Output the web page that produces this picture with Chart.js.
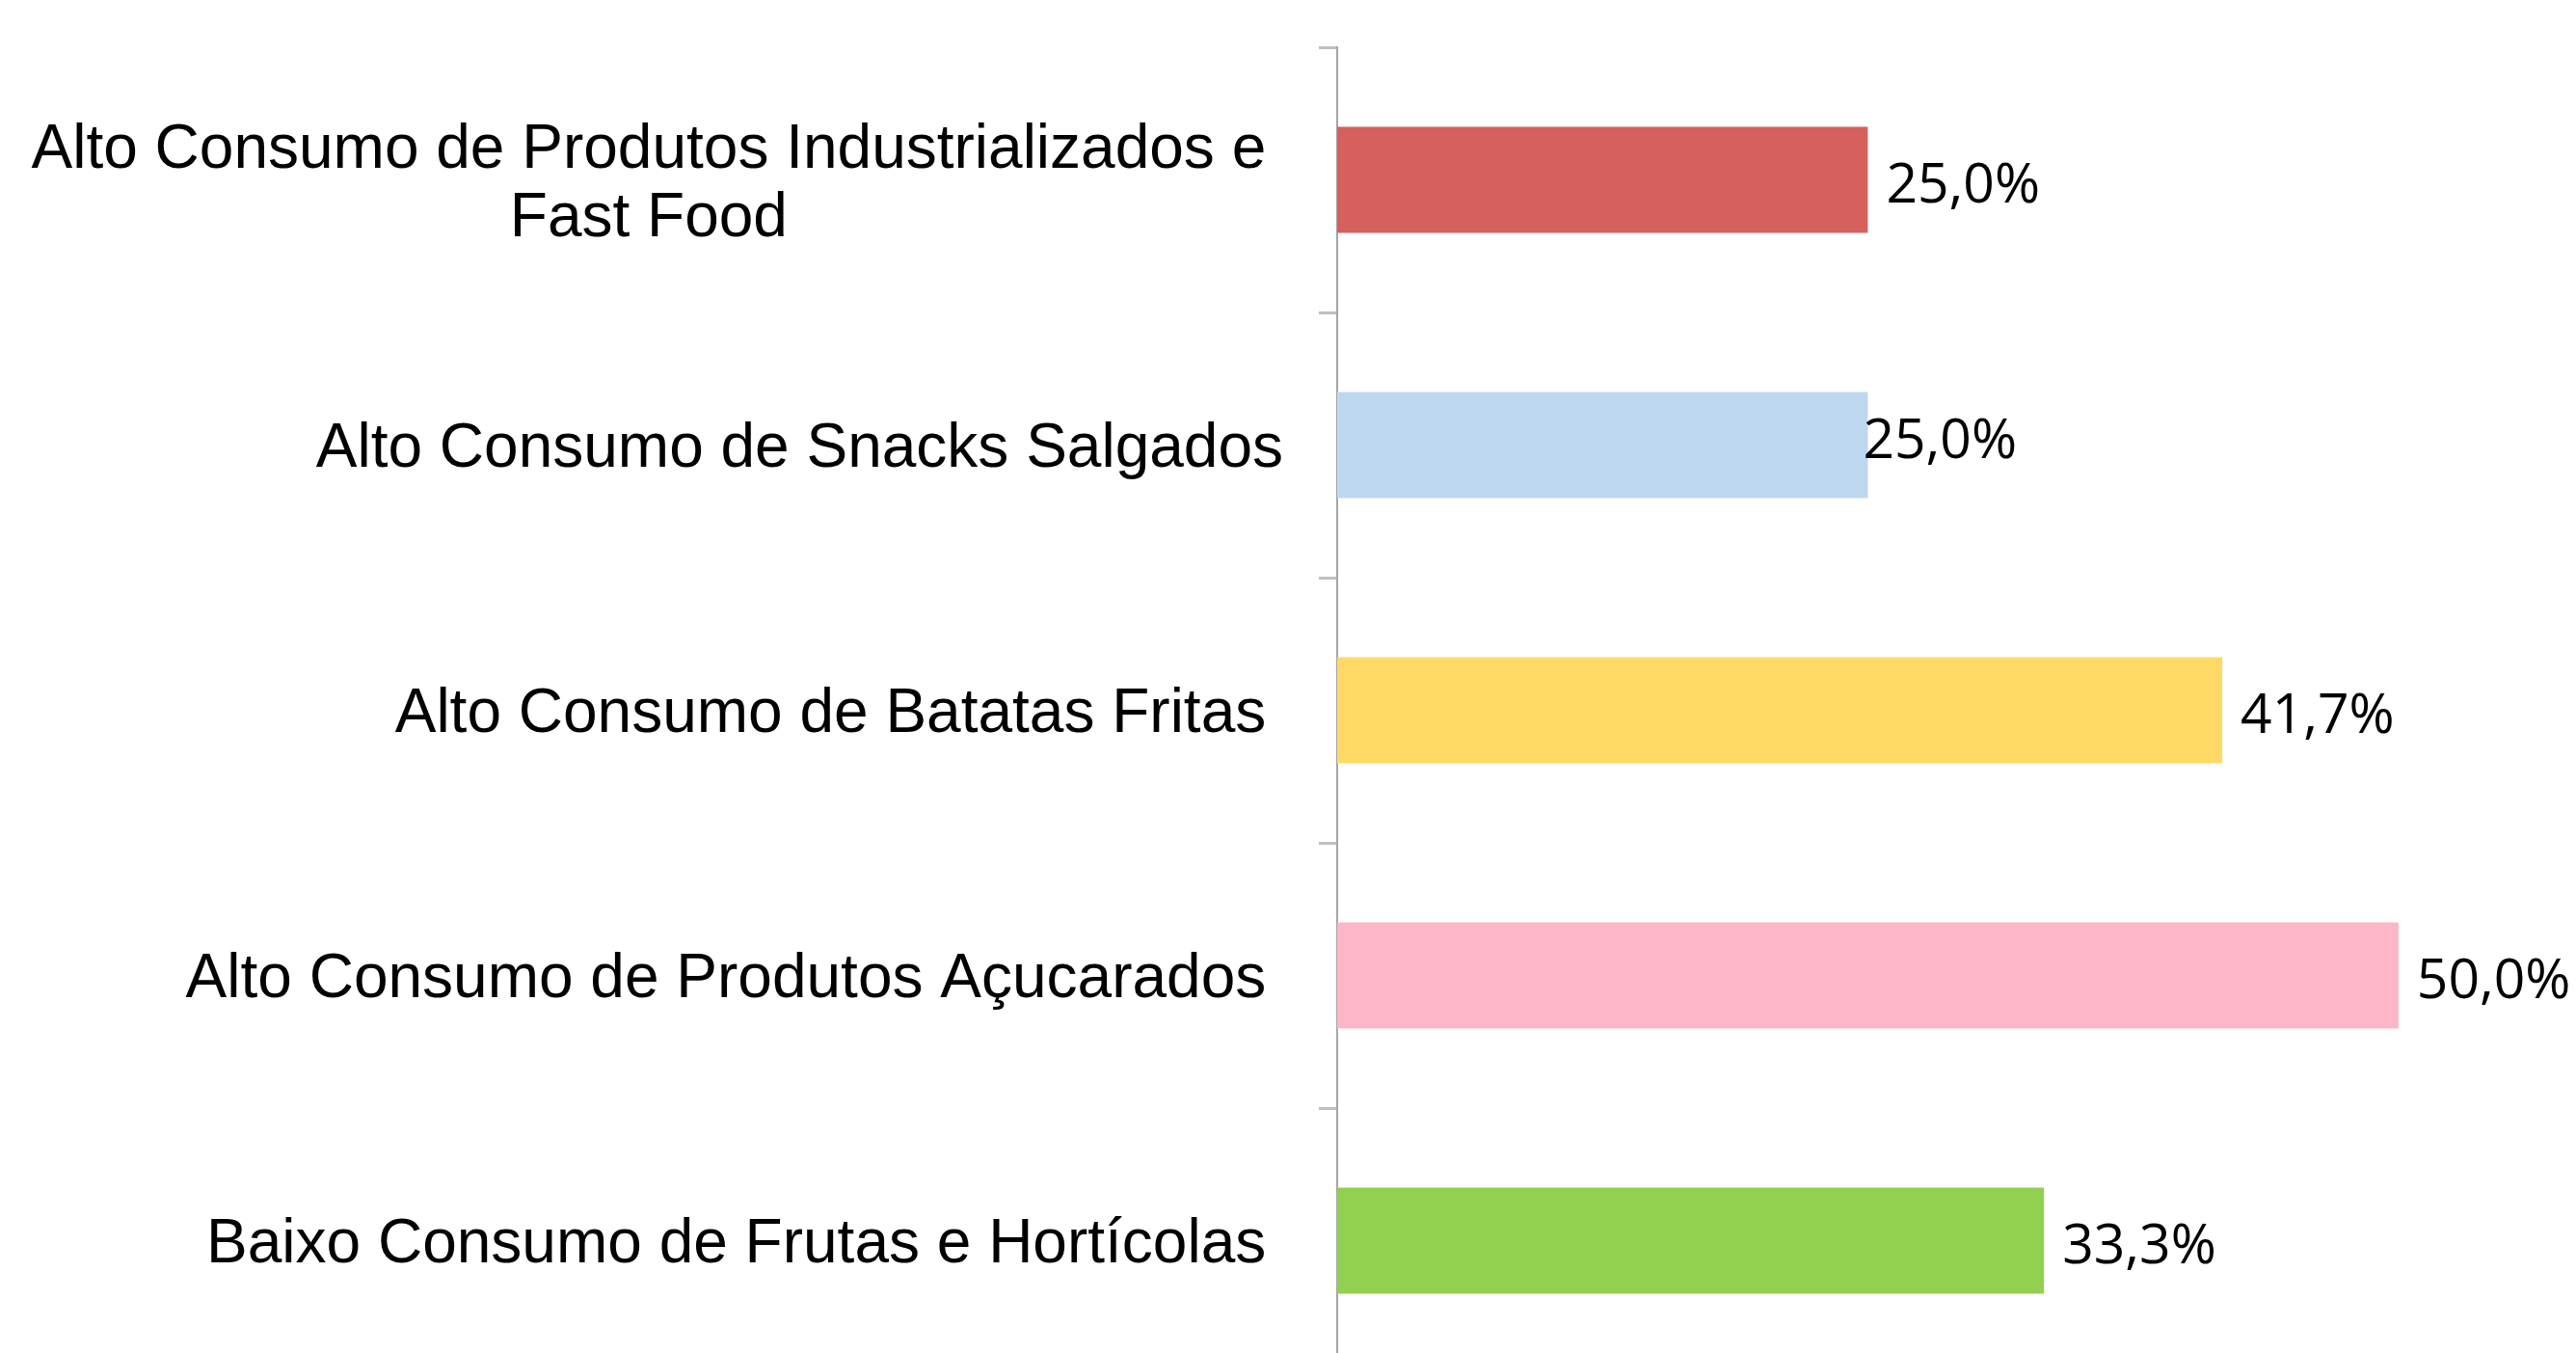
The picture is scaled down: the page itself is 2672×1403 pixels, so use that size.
<!DOCTYPE html>
<html>
<head>
<meta charset="utf-8">
<script src="https://cdn.jsdelivr.net/npm/chart.js@4/dist/chart.umd.min.js"></script>
<style>
  html, body { margin: 0; padding: 0; background: #fff; overflow: hidden; }
  canvas { display: block; }
</style>
</head>
<body>
<canvas id="foodChart" width="2708" height="1424"></canvas>
<script>
// categories (trailing spaces kept as in the original labels)
const categories = [
    ['Alto Consumo de Produtos Industrializados e ', 'Fast Food '],
    'Alto Consumo de Snacks Salgados',
    'Alto Consumo de Batatas Fritas ',
    'Alto Consumo de Produtos Açucarados ',
    'Baixo Consumo de Frutas e Hortícolas '
];
const percentages = [25.0, 25.0, 41.7, 50.0, 33.3];
const barColors = ['#D5605E', '#BDD7EE', '#FFD966', '#FDB5C8', '#92D050'];

// category labels drawn by hand so wrapped lines can be centred like the original
const categoryLabels = {
    id: 'categoryLabels',
    afterDraw(chart) {
        const ctx = chart.ctx;
        const yScale = chart.scales.y;
        const right = yScale.right - 56;
        const lineHeight = 71;
        ctx.save();
        ctx.font = '64px "Liberation Sans", Arial, sans-serif';
        ctx.fillStyle = '#000';
        ctx.textBaseline = 'middle';
        ctx.textAlign = 'center';
        categories.forEach((label, i) => {
            const lines = Array.isArray(label) ? label : [label];
            const blockW = Math.max(...lines.map(l => ctx.measureText(l).width));
            const cx = right - blockW / 2;
            const cy = yScale.getPixelForValue(i) + 5;
            lines.forEach((line, j) => {
                const y = cy + (j - (lines.length - 1) / 2) * lineHeight;
                ctx.fillText(line, cx, y);
            });
        });
        ctx.restore();
    }
};

// value labels at the end of each bar
const valueLabels = {
    id: 'valueLabels',
    afterDatasetsDraw(chart) {
        const ctx = chart.ctx;
        const meta = chart.getDatasetMeta(0);
        ctx.save();
        ctx.font = '57px "Open Sans", sans-serif';
        ctx.fillStyle = '#000';
        ctx.textAlign = 'left';
        ctx.textBaseline = 'middle';
        meta.data.forEach((bar, i) => {
            let dx = 19, dy = 7;
            if (i === 1) { dx = -5; dy = -3; } // label was nudged in the original
            const text = percentages[i].toFixed(1).replace('.', ',') + '%';
            ctx.fillText(text, bar.x + dx, bar.y + dy);
        });
        ctx.restore();
    }
};

const ctx = document.getElementById('foodChart').getContext('2d');
const myChart = new Chart(ctx, {
    type: 'bar',
    data: {
        labels: categories,
        datasets: [{
            data: percentages,
            backgroundColor: barColors,
            borderWidth: 0,
            categoryPercentage: 1.0,
            barPercentage: 0.4
        }]
    },
    options: {
        indexAxis: 'y',
        responsive: false,
        animation: false,
        layout: {
            padding: { left: 1368, top: 49, right: 0, bottom: 0 }
        },
        plugins: {
            legend: { display: false },
            tooltip: { enabled: false }
        },
        scales: {
            x: {
                display: false,
                min: 0,
                max: 60
            },
            y: {
                ticks: { display: false },
                grid: {
                    drawOnChartArea: false,
                    drawTicks: true,
                    tickLength: 19,
                    color: '#BFBFBF',
                    lineWidth: 3,
                    offset: true
                },
                border: {
                    display: true,
                    color: '#A6A6A6',
                    width: 2
                }
            }
        }
    },
    plugins: [categoryLabels, valueLabels]
});
</script>
</body>
</html>
